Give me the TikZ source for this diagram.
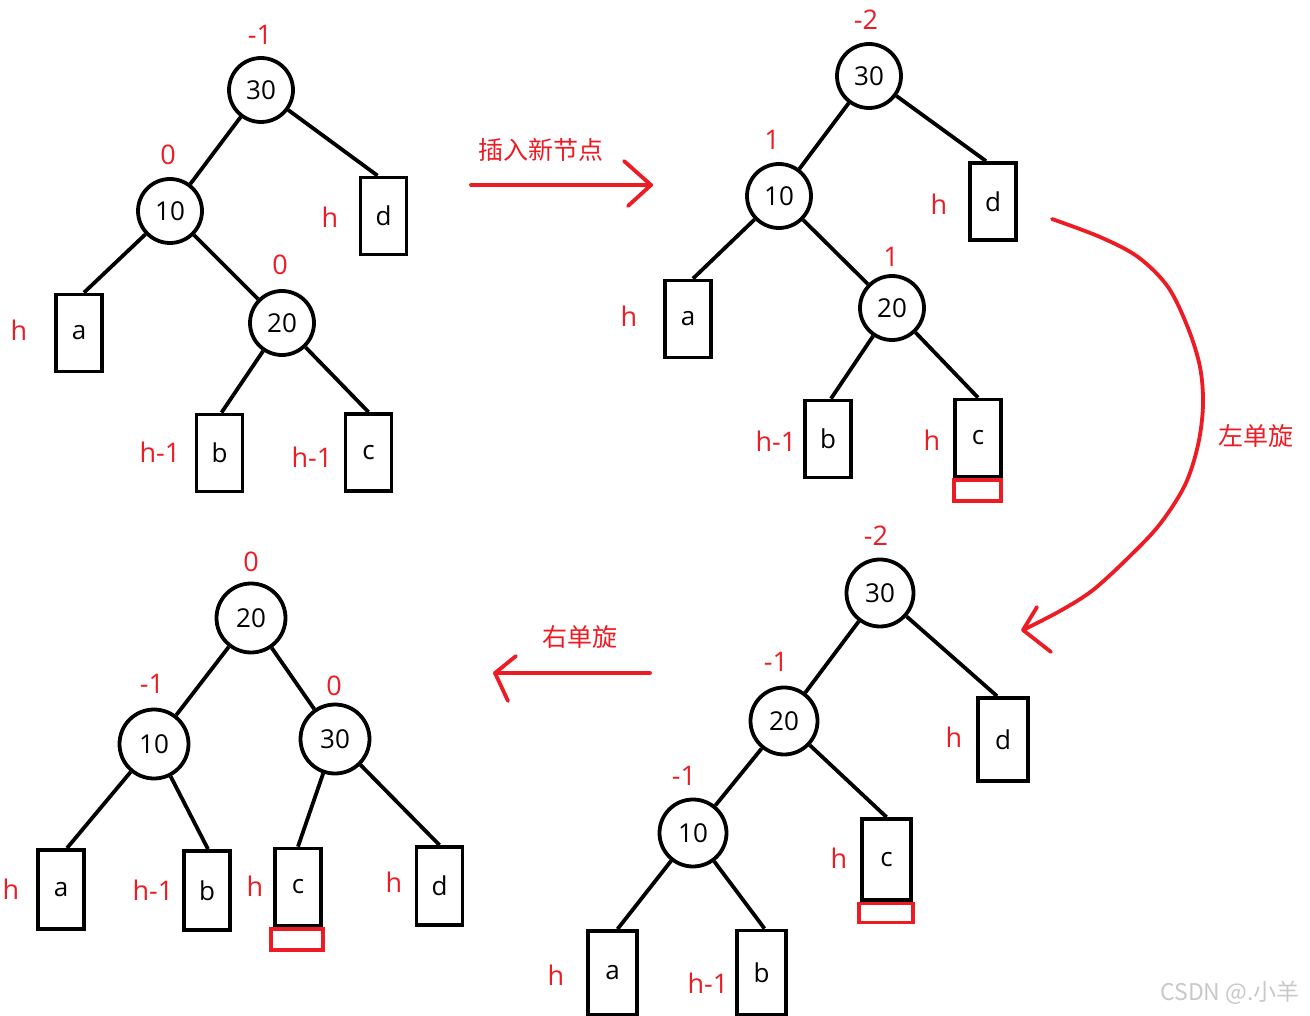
\documentclass[tikz,border=0pt]{standalone}
\usepackage{fontspec}
\setmainfont{Open Sans}
\newfontfamily\cjk{Noto Sans CJK SC}
\usetikzlibrary{calc}
\definecolor{myred}{RGB}{237,28,36}
\definecolor{wm}{RGB}{200,200,200}
\begin{document}
\begin{tikzpicture}[x=1pt,y=-1pt,
  cnode/.style={circle, draw, line width=3.8pt, minimum size=64pt, inner sep=0pt, font=\fontsize{26}{26}\selectfont},
  bigc/.style={cnode, minimum size=67pt},
  leaf/.style={rectangle, draw, line width=3.8pt, minimum width=46pt, minimum height=77pt, inner sep=0pt, font=\fontsize{26}{26}\selectfont},
  bigleaf/.style={leaf, minimum width=49pt, minimum height=81pt},
  lab/.style={text=myred, inner sep=0pt, font=\fontsize{27}{27}\selectfont},
  zh/.style={text=myred, inner sep=0pt, font=\cjk\fontsize{25}{25}\selectfont},
  edge/.style={line width=3.8pt},
  newbox/.style={rectangle, draw=myred, line width=3.8pt, inner sep=0pt},
  rarrow/.style={draw=myred, line width=3.8pt, line cap=round, line join=round}
]
\useasboundingbox (0,0) rectangle (1310,1016);

% ---------------- Tree 1 ----------------
\node[cnode] (a30) at (261,90) {30};
\node[cnode] (a10) at (170,211) {10};
\node[cnode] (a20) at (282,323) {20};
\node[leaf] (ad) at (383.5,216) {d};
\node[leaf] (aa) at (79,333) {a};
\node[leaf] (ab) at (219.5,453) {b};
\node[leaf] (ac) at (368.5,452.5) {c};
\draw[edge] (a30) -- ($(ad.north)+(-6,0)$);
\draw[edge] (a30) -- (a10);
\draw[edge] (a10) -- ($(aa.north)+(5,0)$);
\draw[edge] (a10) -- (a20);
\draw[edge] (a20) -- ($(ab.north)+(2,0)$);
\draw[edge] (a20) -- (ac.north);
\node[lab] (la1) at (260,35) {-1};
\node[lab] (la2) at (168,155) {0};
\node[lab] (la3) at (280,265) {0};
\node[lab] (la4) at (330,217) {h};
\node[lab] (la5) at (19,330) {h};
\node[lab] (la6) at (160,452) {h-1};
\node[lab] (la7) at (312,457) {h-1};

% ---------------- Tree 2 ----------------
\node[cnode] (b30) at (869,76) {30};
\node[cnode] (b10) at (779,196) {10};
\node[cnode] (b20) at (892,308) {20};
\node[leaf] (bd) at (993,201.5) {d};
\node[leaf] (ba) at (688,319) {a};
\node[leaf] (bb) at (828,439) {b};
\node[leaf] (bc) at (978,438) {c};
\node[newbox, minimum width=47pt, minimum height=21pt] (bn) at (977.5,490.5) {};
\draw[edge] (b30) -- ($(bd.north)+(-7,0)$);
\draw[edge] (b30) -- (b10);
\draw[edge] (b10) -- ($(ba.north)+(5,0)$);
\draw[edge] (b10) -- (b20);
\draw[edge] (b20) -- ($(bb.north)+(3,0)$);
\draw[edge] (b20) -- (bc.north);
\node[lab] (lb1) at (866,20) {-2};
\node[lab] (lb2) at (772,140) {1};
\node[lab] (lb3) at (891,257) {1};
\node[lab] (lb4) at (939,204) {h};
\node[lab] (lb5) at (629,316) {h};
\node[lab] (lb6) at (776,441) {h-1};
\node[lab] (lb7) at (932,440) {h};

% ---------------- Tree 3 ----------------
\node[bigc] (c30) at (880,593) {30};
\node[bigc] (c20) at (784,721) {20};
\node[bigc] (c10) at (693,833) {10};
\node[bigleaf, minimum width=50pt, minimum height=83pt] (cd) at (1003,739.5) {d};
\node[bigleaf] (cc) at (886.5,859.5) {c};
\node[bigleaf, minimum height=84pt] (ca) at (612.5,973) {a};
\node[bigleaf, minimum height=84pt] (cb) at (761.5,972.5) {b};
\node[newbox, minimum width=54pt, minimum height=19pt] (cn) at (886,913) {};
\draw[edge] (c30) -- ($(cd.north)+(-6,0)$);
\draw[edge] (c30) -- (c20);
\draw[edge] (c20) -- (c10);
\draw[edge] (c20) -- (cc.north);
\draw[edge] (c10) -- ($(ca.north)+(5,0)$);
\draw[edge] (c10) -- ($(cb.north)+(3,0)$);
\node[lab] (lc1) at (876,536) {-2};
\node[lab] (lc2) at (776,662) {-1};
\node[lab] (lc3) at (684,776) {-1};
\node[lab] (lc4) at (954,737) {h};
\node[lab] (lc5) at (839,858) {h};
\node[lab] (lc6) at (556,975) {h};
\node[lab] (lc7) at (708,983) {h-1};

% ---------------- Tree 4 ----------------
\node[bigc, minimum size=69pt] (d20) at (251,618) {20};
\node[bigc, minimum size=69pt] (d10) at (154,744) {10};
\node[bigc, minimum size=69pt] (d30) at (335,739) {30};
\node[leaf, minimum height=79pt] (da) at (61,889.5) {a};
\node[leaf, minimum height=79pt] (db) at (207,890.5) {b};
\node[leaf] (dc) at (298,887) {c};
\node[leaf, minimum height=78pt] (dd) at (439.5,886) {d};
\node[newbox, minimum width=52pt, minimum height=21pt] (dn) at (297,939.5) {};
\draw[edge] (d20) -- (d10);
\draw[edge] (d20) -- (d30);
\draw[edge] (d10) -- ($(da.north)+(6,0)$);
\draw[edge] (d10) -- ($(db.north)+(1,0)$);
\draw[edge] (d30) -- (dc.north);
\draw[edge] (d30) -- (dd.north);
\node[lab] (ld1) at (251,562) {0};
\node[lab] (ld2) at (152,684) {-1};
\node[lab] (ld3) at (334,686) {0};
\node[lab] (ld4) at (11,889) {h};
\node[lab] (ld5) at (153,890) {h-1};
\node[lab] (ld6) at (255,886) {h};
\node[lab] (ld7) at (394,882) {h};

% ---------------- Arrows ----------------
\coordinate (p1s) at (471,185);
\coordinate (p1t) at (651,185);
\draw[rarrow] (p1s) -- (p1t);
\draw[rarrow] ($(p1t)+(-27,-24)$) -- (p1t) -- ($(p1t)+(-23,21)$);
\node[zh] (t1) at (541,150) {插入新节点};

\coordinate (p2s) at (650,673);
\coordinate (p2t) at (495,673);
\draw[rarrow] (p2s) -- (p2t);
\draw[rarrow] ($(p2t)+(21,-17)$) -- (p2t) -- ($(p2t)+(13,28)$);
\node[zh] (t2) at (580,637) {右单旋};

\coordinate (q9) at (1023,630);
\draw[rarrow] plot[smooth, tension=0.55] coordinates {(1052,219) (1100,237) (1138,257) (1168,287) (1188,328) (1200,367) (1203,405) (1198,445) (1185,485) (1160,524) (1130,556) (1093,590) (1060,611) (1023,630)};
\draw[rarrow] (1037,607) -- (q9) -- (1051,652);
\node[zh] (t3) at (1256,436) {左单旋};

\node[text=wm, inner sep=0pt, font=\cjk\fontsize{23}{23}\selectfont] (wmk) at (1230,993) {CSDN @.小羊};
\end{tikzpicture}
\end{document}
